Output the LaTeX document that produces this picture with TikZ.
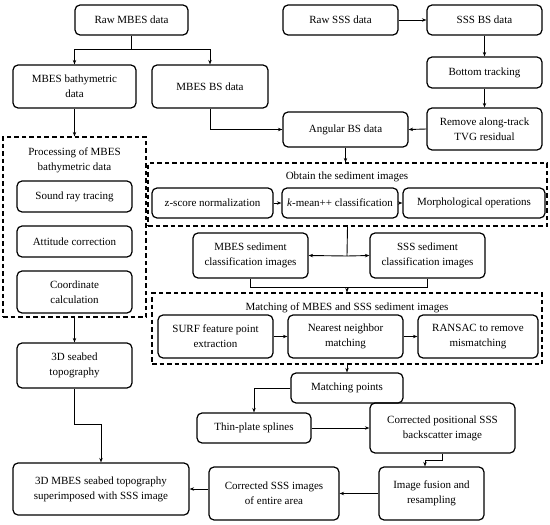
\documentclass[tikz,border=0pt]{standalone}
\usepackage{fontspec}
\setmainfont{Liberation Serif}
\usetikzlibrary{arrows.meta}
\begin{document}
\begin{tikzpicture}[x=1pt,y=-1pt,
  font=\fontsize{11}{15}\selectfont,
  box/.style={draw, line width=1.2pt, rounded corners=5pt, align=center, inner sep=1pt},
  dbox/.style={draw, line width=1.2pt, dash pattern=on 4.5pt off 3pt},
  arr/.style={line width=0.9pt, -{Stealth[length=4.5pt,width=3.5pt]}},
  ln/.style={line width=0.9pt}]
\useasboundingbox (0,0) rectangle (550,525);
% dashed group boxes
\node[dbox, minimum width=143pt, minimum height=180pt] (proc) at (74.5,227) {};
\node[dbox, minimum width=399pt, minimum height=63pt] (obt) at (347.5,194.5) {};
\node[dbox, minimum width=390pt, minimum height=71pt] (mat) at (347,328.5) {};
% nodes
\node[box, minimum width=113pt, minimum height=30pt] (rawm) at (131.5,20) {Raw MBES data};
\node[box, minimum width=123pt, minimum height=43pt] (bath) at (74.5,86.5) {MBES bathymetric\\data};
\node[box, minimum width=116pt, minimum height=43pt] (mbs) at (210,86.5) {MBES BS data};
\node[box, minimum width=115pt, minimum height=30pt] (rsss) at (340.5,20) {Raw SSS data};
\node[box, minimum width=115pt, minimum height=30pt] (sbs) at (484.5,20) {SSS BS data};
\node[box, minimum width=115pt, minimum height=31pt] (bt) at (484.5,72.5) {Bottom tracking};
\node[box, minimum width=115pt, minimum height=42pt] (tvg) at (484.5,129) {Remove along-track\\TVG residual};
\node[box, minimum width=125pt, minimum height=35pt] (ang) at (345.5,129.5) {Angular BS data};
\node[align=center] (proct) at (74.5,160) {Processing of MBES\\bathymetric data};
\node[box, minimum width=115pt, minimum height=31pt] (sray) at (74.5,196.5) {Sound ray tracing};
\node[box, minimum width=115pt, minimum height=31pt] (att) at (74.5,241.5) {Attitude correction};
\node[box, minimum width=115pt, minimum height=42pt] (coord) at (74.5,292) {Coordinate\\calculation};
\node[box, minimum width=115pt, minimum height=45pt] (topo) at (74.5,365.5) {3D seabed\\topography};
\node[box, minimum width=176pt, minimum height=52pt] (final) at (101,489) {3D MBES seabed topography\\superimposed with SSS image};
\node[box, minimum width=130pt, minimum height=53pt] (csss) at (274,493.5) {Corrected SSS images\\of entire area};
\node[box, minimum width=105pt, minimum height=53pt] (fus) at (431.5,493.5) {Image fusion and\\resampling};
\node[box, minimum width=145pt, minimum height=50pt] (cpos) at (442.5,428) {Corrected positional SSS\\backscatter image};
\node[box, minimum width=114pt, minimum height=30pt] (tps) at (254,428) {Thin-plate splines};
\node[box, minimum width=112pt, minimum height=30pt] (mp) at (347,388) {Matching points};
\node (matt) at (347,308) {Matching of MBES and SSS sediment images};
\node[box, minimum width=115pt, minimum height=43pt] (surf) at (215.5,336.5) {SURF feature point\\extraction};
\node[box, minimum width=115pt, minimum height=43pt] (nn) at (345.5,336.5) {Nearest neighbor\\matching};
\node[box, minimum width=120pt, minimum height=43pt] (ran) at (478,336.5) {RANSAC to remove\\mismatching};
\node[box, minimum width=115pt, minimum height=45pt] (msed) at (250.5,255.5) {MBES sediment\\classification images};
\node[box, minimum width=115pt, minimum height=45pt] (ssed) at (427.5,255.5) {SSS sediment\\classification images};
\node (obtt) at (347,177) {Obtain the sediment images};
\node[box, minimum width=121pt, minimum height=30pt] (zs) at (212.5,203) {z-score normalization};
\node[box, minimum width=116pt, minimum height=30pt] (km) at (340,203) {\textit{k}-mean++ classification};
\node[box, minimum width=142pt, minimum height=30pt] (mo) at (474,203) {Morphological operations};
% connectors
\coordinate (j0) at (131.5,49);
\draw[ln] (rawm.south) -- (j0);
\draw[arr] (j0) -| (bath.north);
\draw[arr] (j0) -| (mbs.north);
\draw[arr] (mbs.south) |- (ang.west);
\draw[arr] (bath.south) -- (proc.north);
\draw[arr] (proc.south) -- (topo.north);
\draw[arr] (topo.south) -- ++(0,36) -| (final.north);
\draw[arr] (rsss.east) -- (sbs.west);
\draw[arr] (sbs.south) -- (bt.north);
\draw[arr] (bt.south) -- (tvg.north);
\draw[arr] (tvg.west) -- (ang.east);
\draw[arr] (ang.south) -- (ang.south |- obt.north);
\draw[arr] (zs.east) -- (km.west);
\draw[arr] (km.east) -- (mo.west);
\coordinate (j1) at (347,256);
\draw[ln] (obt.south) -- (j1);
\draw[arr] (j1) -- (msed.east);
\draw[arr] (j1) -- (ssed.west);
\coordinate (j2) at (347,287);
\draw[ln] (msed.south) -- (msed.south |- j2) -- (ssed.south |- j2) -- (ssed.south);
\draw[arr] (j2) -- (mat.north);
\draw[arr] (surf.east) -- (nn.west);
\draw[arr] (nn.east) -- (ran.west);
\draw[arr] (mat.south) -- (mp.north);
\draw[arr] (mp.west) -| (tps.north);
\draw[arr] (tps.east) -- (cpos.west);
\draw[arr] (cpos.south) -- ++(0,7) -| ([xshift=-6.5pt]fus.north);
\draw[arr] (fus.west) -- (csss.east);
\draw[arr] (csss.west |- final.east) -- (final.east);
\end{tikzpicture}
\end{document}
